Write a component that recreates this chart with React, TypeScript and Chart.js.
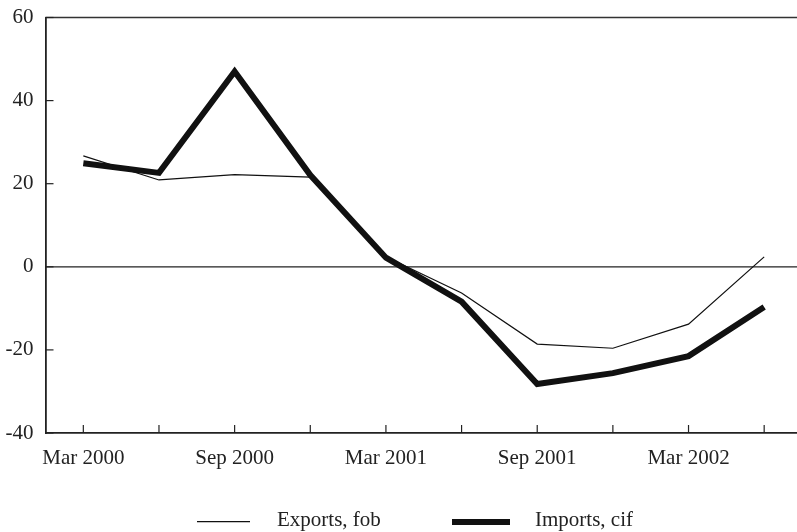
import React, { useEffect, useRef } from 'react';
import { Chart, registerables } from 'chart.js';

Chart.register(...registerables);

const categories = ['Mar 2000', 'Jun 2000', 'Sep 2000', 'Dec 2000', 'Mar 2001', 'Jun 2001', 'Sep 2001', 'Dec 2001', 'Mar 2002', 'Jun 2002'];
const shownLabels = ['Mar 2000', 'Sep 2000', 'Mar 2001', 'Sep 2001', 'Mar 2002'];
const seriesNames = ['Exports, fob', 'Imports, cif'];
const exportsFob = [26.7, 20.9, 22.2, 21.6, 2.4, -6.3, -18.6, -19.6, -13.8, 2.4];
const importsCif = [24.9, 22.6, 47.0, 22.1, 2.2, -8.4, -28.2, -25.6, -21.5, -9.7];
const yTicks = [-40, -20, 0, 20, 40, 60];

const FONT = "'Liberation Serif', 'Times New Roman', serif";
const INK = '#222';

const framePlugin = {
  id: 'frame',
  beforeDatasetsDraw(chart: any) {
    const { ctx, chartArea: a, scales } = chart;
    const x = scales.x;
    const y = scales.y;
    const line = (x1: number, y1: number, x2: number, y2: number) => {
      ctx.beginPath();
      ctx.moveTo(x1, y1);
      ctx.lineTo(x2, y2);
      ctx.stroke();
    };
    ctx.save();
    ctx.strokeStyle = INK;
    ctx.lineWidth = 1.2;
    const y0 = y.getPixelForValue(0);
    line(a.left, y0, a.right, y0);
    ctx.strokeStyle = '#333';
    ctx.lineWidth = 1.7;
    line(a.left, a.top, a.right, a.top);
    ctx.strokeStyle = INK;
    ctx.lineWidth = 1.2;
    for (let i = 0; i < categories.length; i++) {
      const px = x.getPixelForTick(i);
      line(px, a.bottom, px, a.bottom - 8);
    }
    for (const v of yTicks) {
      const py = y.getPixelForValue(v);
      line(a.left, py, a.left + 8, py);
    }
    ctx.restore();
  },
  afterDraw(chart: any) {
    const { ctx } = chart;
    ctx.save();
    ctx.strokeStyle = '#111';
    ctx.lineCap = 'butt';
    ctx.lineWidth = 1.2;
    ctx.beginPath();
    ctx.moveTo(197, 521.7);
    ctx.lineTo(250, 521.7);
    ctx.stroke();
    ctx.lineWidth = 5.8;
    ctx.beginPath();
    ctx.moveTo(452, 522);
    ctx.lineTo(510, 522);
    ctx.stroke();
    ctx.fillStyle = INK;
    ctx.font = `21px ${FONT}`;
    ctx.textBaseline = 'middle';
    ctx.textAlign = 'left';
    ctx.fillText(seriesNames[0], 277, 520.5);
    ctx.fillText(seriesNames[1], 535, 520.5);
    ctx.restore();
  },
};

export default function App() {
  const ref = useRef<HTMLCanvasElement>(null);
  useEffect(() => {
    if (!ref.current) return;
    const chart = new Chart(ref.current, {
      type: 'line',
      data: {
        labels: categories,
        datasets: [
          {
            label: seriesNames[0],
            data: exportsFob,
            borderColor: '#111',
            borderWidth: 1.2,
            pointRadius: 0,
            tension: 0,
            fill: false,
          },
          {
            label: seriesNames[1],
            data: importsCif,
            borderColor: '#111',
            borderWidth: 6,
            borderJoinStyle: 'miter',
            borderCapStyle: 'butt',
            pointRadius: 0,
            tension: 0,
            fill: false,
          },
        ],
      },
      options: {
        responsive: false,
        animation: false,
        devicePixelRatio: 1,
        layout: { padding: { top: 17.5, left: 0, right: 0, bottom: 56 } },
        plugins: {
          legend: { display: false },
          tooltip: { enabled: false },
        },
        scales: {
          x: {
            type: 'category',
            offset: true,
            grid: { display: false, drawTicks: false, tickLength: 0 },
            border: { display: true, color: INK, width: 1.8 },
            ticks: {
              autoSkip: false,
              maxRotation: 0,
              minRotation: 0,
              padding: 13,
              color: INK,
              font: { family: FONT, size: 21 },
              callback: (_v: any, i: number) => (shownLabels.includes(categories[i]) ? categories[i] : ''),
            },
            afterFit: (s: any) => {
              s.height = 43;
            },
          },
          y: {
            min: -40,
            max: 60,
            grid: { display: false, drawTicks: false, tickLength: 0 },
            border: { display: true, color: INK, width: 1.8 },
            ticks: {
              stepSize: 20,
              padding: 12,
              color: INK,
              font: { family: FONT, size: 21 },
            },
            afterFit: (s: any) => {
              s.width = 45.5;
              s.paddingTop = 0;
              s.paddingBottom = 0;
            },
          },
        },
      },
      plugins: [framePlugin],
    } as any);
    return () => chart.destroy();
  }, []);
  return (
    <div style={{ position: 'fixed', left: 0, top: 0, width: 797, height: 532, overflow: 'hidden', background: '#fff' }}>
      <canvas ref={ref} width={802} height={532} style={{ display: 'block' }} />
    </div>
  );
}
